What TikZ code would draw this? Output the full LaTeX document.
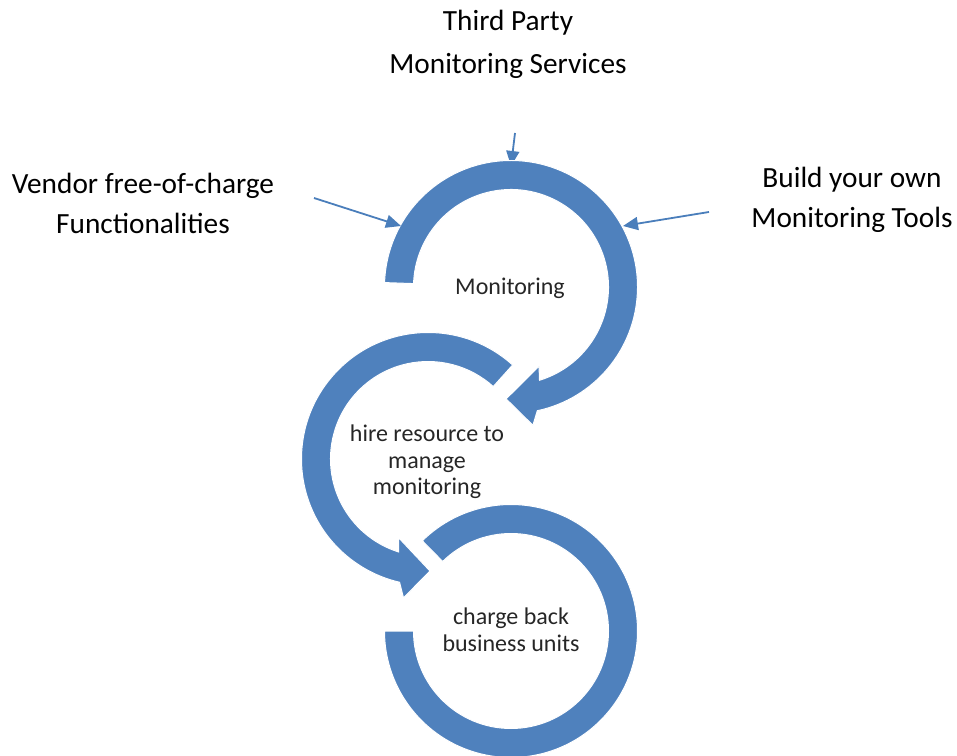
\documentclass[tikz,border=0pt]{standalone}
\usepackage{fontspec}
\setmainfont{Carlito}
\usetikzlibrary{arrows.meta}
\definecolor{ringblue}{HTML}{4F81BD}
\definecolor{linkblue}{HTML}{4A7EBB}
\begin{document}
\begin{tikzpicture}[x=1pt,y=1pt,
  ring/.style={fill=ringblue,draw=white,line width=1pt},
  outerlabel/.style={font=\fontsize{29.3}{40}\selectfont, align=center, text=black, inner sep=0pt},
  innerlabel/.style={font=\fontsize{24}{26.5}\selectfont, align=center, text=black!85, inner sep=0pt},
  link/.style={draw=linkblue, line width=1.8pt, -{Triangle[length=15pt,width=13pt]}}]
\useasboundingbox (0,0) rectangle (957,755);
\coordinate (c1) at (511,468);
\coordinate (c2) at (428,296);
\coordinate (c3) at (511,124);
% free ends of connectors
\coordinate (topstart) at (515,622);
\coordinate (toptip) at (511,589);
\coordinate (leftstart) at (314,557);
\coordinate (lefttip) at (401,529);
\coordinate (rightstart) at (709,543);
\coordinate (righttip) at (623,529);
\draw[link] (topstart) -- (toptip);
% rings
\begin{scope}[shift={(c3)}]
\fill[ring] (134.5:126.5) arc[start angle=134.5,end angle=-180,radius=126.5] -- (-180:97.5) arc[start angle=-180,end angle=134.5,radius=97.5] -- cycle;
\end{scope}
\begin{scope}[shift={(c2)}]
\fill[ring] (48:126.5) arc[start angle=48,end angle=257,radius=126.5] -- (260:141) -- (271:112) -- (249.5:84) -- (252.5:97.5) arc[start angle=252.5,end angle=48,radius=97.5] -- cycle;
\end{scope}
\begin{scope}[shift={(c1)}]
\fill[ring] (178:126.5) arc[start angle=178,end angle=-78,radius=126.5] -- (-81:140) -- (-92.5:112) -- (-70.5:84) -- (-73:97.5) arc[start angle=-73,end angle=178,radius=97.5] -- cycle;
\end{scope}
% labels
\node[outerlabel, font=\fontsize{29.3}{43}\selectfont] (third) at (508,711) {Third Party\\Monitoring Services};
\node[outerlabel] (vendor) at (143,552) {Vendor free-of-charge\\Functionalities};
\node[outerlabel] (build) at (852,555) {Build your own\\Monitoring Tools};
\node[innerlabel] (mon) at (510,467) {Monitoring};
\node[innerlabel] (hire) at (427,293) {hire resource to\\manage\\monitoring};
\node[innerlabel] (charge) at (511,125) {charge back\\business units};
\draw[link] (leftstart) -- (lefttip);
\draw[link] (rightstart) -- (righttip);
\end{tikzpicture}
\end{document}
